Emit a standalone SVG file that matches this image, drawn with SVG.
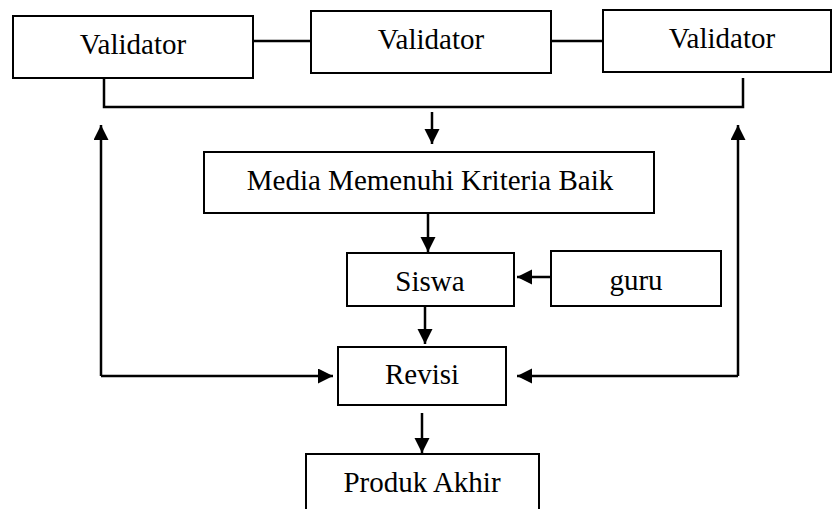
<svg xmlns="http://www.w3.org/2000/svg" width="834" height="509" viewBox="0 0 834 509">
<style>
.box{fill:#fff;stroke:#000;stroke-width:2}
.lbl{font-family:"Liberation Serif","Times New Roman",serif;font-size:29px;fill:#000;text-anchor:middle}
.ln{fill:none;stroke:#000;stroke-width:2.5}
.arr{fill:none;stroke:#000;stroke-width:2.5;marker-end:url(#ah)}
</style>
<defs>
<marker id="ah" markerUnits="userSpaceOnUse" markerWidth="16" markerHeight="16" refX="15" refY="7.5" orient="auto">
<path d="M0,0 L15,7.5 L0,15 z" fill="#000"/>
</marker>
</defs>
<rect width="834" height="509" fill="#fff"/>
<g id="connectors">
<line class="ln" x1="253" y1="41" x2="311" y2="41" stroke-width="2"/>
<line class="ln" x1="551" y1="41" x2="603" y2="41" stroke-width="2"/>
<polyline class="ln" points="104,78 104,107 743,107 743,78"/>
<line class="arr" x1="432" y1="112" x2="432" y2="144"/>
<line class="arr" x1="428" y1="213" x2="428" y2="252"/>
<line class="arr" x1="551" y1="277" x2="517" y2="277"/>
<line class="arr" x1="425" y1="306" x2="425" y2="344"/>
<line class="arr" x1="422" y1="413" x2="422" y2="453"/>
<polyline class="arr" points="101,376 101,125"/>
<polyline class="arr" points="101,376 333,376"/>
<polyline class="arr" points="738,376 738,125"/>
<polyline class="arr" points="738,376 517,376"/>
</g>
<g id="validator1"><rect class="box" x="13" y="16" width="240" height="62"/><text class="lbl" x="133" y="54">Validator</text></g>
<g id="validator2"><rect class="box" x="311" y="11" width="240" height="62"/><text class="lbl" x="431" y="49">Validator</text></g>
<g id="validator3"><rect class="box" x="603" y="10" width="228" height="62"/><text class="lbl" x="722" y="48">Validator</text></g>
<g id="media"><rect class="box" x="204" y="152" width="450" height="61"/><text class="lbl" x="430" y="190">Media Memenuhi Kriteria Baik</text></g>
<g id="siswa"><rect class="box" x="347" y="253" width="167" height="53"/><text class="lbl" x="430" y="291">Siswa</text></g>
<g id="guru"><rect class="box" x="551" y="251" width="170" height="55"/><text class="lbl" x="636" y="290">guru</text></g>
<g id="revisi"><rect class="box" x="338" y="347" width="168" height="58"/><text class="lbl" x="422" y="384">Revisi</text></g>
<g id="produk"><rect class="box" x="306" y="454" width="233" height="70"/><text class="lbl" x="422" y="492">Produk Akhir</text></g>
</svg>
